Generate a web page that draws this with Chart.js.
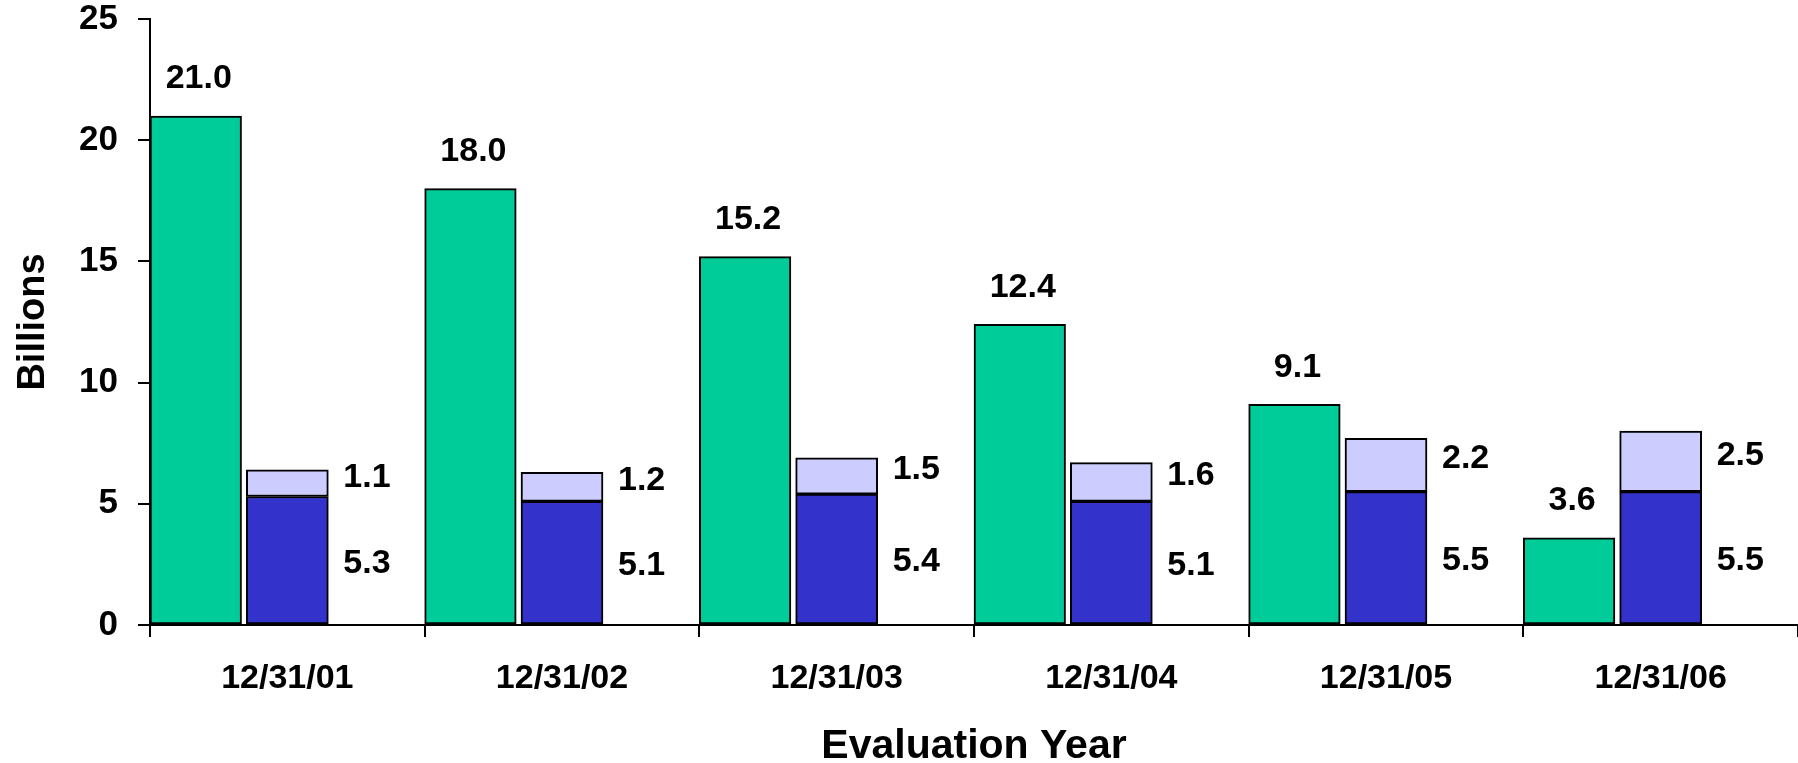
<!DOCTYPE html>
<html>
<head>
<meta charset="utf-8">
<script src="https://cdn.jsdelivr.net/npm/chart.js@4.4.1/dist/chart.umd.min.js"></script>
<style>
  html, body { margin: 0; padding: 0; background: #fff; }
  #wrap { width: 1798px; height: 763px; position: relative; }
</style>
</head>
<body>
<div id="wrap"><canvas id="chart"></canvas></div>
<script>
var categories = ['12/31/01', '12/31/02', '12/31/03', '12/31/04', '12/31/05', '12/31/06'];
var greenValues = [21.0, 18.0, 15.2, 12.4, 9.1, 3.6];
var blueValues = [5.3, 5.1, 5.4, 5.1, 5.5, 5.5];
var lavenderValues = [1.1, 1.2, 1.5, 1.6, 2.2, 2.5];
var yTicks = [0, 5, 10, 15, 20, 25];

var FONT = "'Liberation Sans', Arial, sans-serif";

// draws the value labels next to the bars
var valueLabels = {
    id: 'valueLabels',
    afterDatasetsDraw: function (chart) {
        var ctx = chart.ctx;
        ctx.save();
        ctx.fillStyle = '#000';
        ctx.font = 'bold 34px ' + FONT;
        ctx.textBaseline = 'middle';
        var green = chart.getDatasetMeta(0).data;
        var blue = chart.getDatasetMeta(1).data;
        var lav = chart.getDatasetMeta(2).data;
        for (var i = 0; i < categories.length; i++) {
            var g = green[i];
            ctx.textAlign = 'center';
            ctx.fillText(greenValues[i].toFixed(1), g.x + 3, g.y - 37);

            var b = blue[i];
            var lx = b.x + b.width / 2 + 15;
            ctx.textAlign = 'left';
            ctx.fillText(blueValues[i].toFixed(1), lx, (b.y + b.base) / 2 + 3);

            var l = lav[i];
            ctx.fillText(lavenderValues[i].toFixed(1), lx, (l.y + l.base) / 2 - 6);
        }
        ctx.restore();
    }
};

var ctx = document.getElementById('chart').getContext('2d');
var chart = new Chart(ctx, {
    type: 'bar',
    data: {
        labels: categories,
        datasets: [{
            data: greenValues,
            stack: 'a',
            backgroundColor: '#00CC99',
            borderColor: '#000',
            borderWidth: 2,
            borderSkipped: false,
            categoryPercentage: 1,
            barPercentage: 1
        }, {
            data: blueValues,
            stack: 'b',
            backgroundColor: '#3333CC',
            borderColor: '#000',
            borderWidth: 2,
            borderSkipped: false,
            categoryPercentage: 1,
            barThickness: 82
        }, {
            data: lavenderValues,
            stack: 'b',
            backgroundColor: '#CCCCFF',
            borderColor: '#000',
            borderWidth: 2,
            borderSkipped: false,
            categoryPercentage: 1,
            barThickness: 82
        }, {
            // empty third slot so the two bars sit on the left of each category
            data: categories.map(function () { return null; }),
            stack: 'c',
            backgroundColor: 'rgba(0,0,0,0)',
            borderWidth: 0,
            categoryPercentage: 1,
            barPercentage: 1
        }]
    },
    options: {
        responsive: true,
        maintainAspectRatio: false,
        animation: false,
        layout: { padding: { top: 19, right: 0, bottom: 0, left: 0 } },
        plugins: {
            legend: { display: false },
            tooltip: { enabled: false }
        },
        scales: {
            x: {
                stacked: true,
                grid: {
                    drawOnChartArea: false,
                    drawTicks: true,
                    tickLength: 12,
                    color: '#000',
                    lineWidth: 2
                },
                border: { display: true, color: '#000', width: 2 },
                ticks: {
                    color: '#000',
                    padding: 21,
                    maxRotation: 0,
                    font: { family: FONT, size: 34, weight: 'bold' }
                },
                title: {
                    display: true,
                    text: 'Evaluation Year',
                    color: '#000',
                    padding: { top: 0, bottom: -8 },
                    font: { family: FONT, size: 41, weight: 'bold' }
                },
                afterFit: function (scale) { scale.height = 138; }
            },
            y: {
                stacked: true,
                min: 0,
                max: 25,
                afterBuildTicks: function (scale) {
                    scale.ticks = yTicks.map(function (v) { return { value: v }; });
                },
                grid: {
                    drawOnChartArea: false,
                    drawTicks: true,
                    tickLength: 12,
                    color: '#000',
                    lineWidth: 2
                },
                border: { display: true, color: '#000', width: 2 },
                ticks: {
                    color: '#000',
                    padding: 20,
                    font: { family: FONT, size: 35, weight: 'bold' }
                },
                title: {
                    display: true,
                    text: 'Billions',
                    color: '#000',
                    padding: { top: 11, bottom: 0 },
                    font: { family: FONT, size: 38, weight: 'bold' }
                },
                afterFit: function (scale) {
                    scale.width = 150;
                    scale.paddingTop = 0;
                }
            }
        }
    },
    plugins: [valueLabels]
});
</script>
</body>
</html>
